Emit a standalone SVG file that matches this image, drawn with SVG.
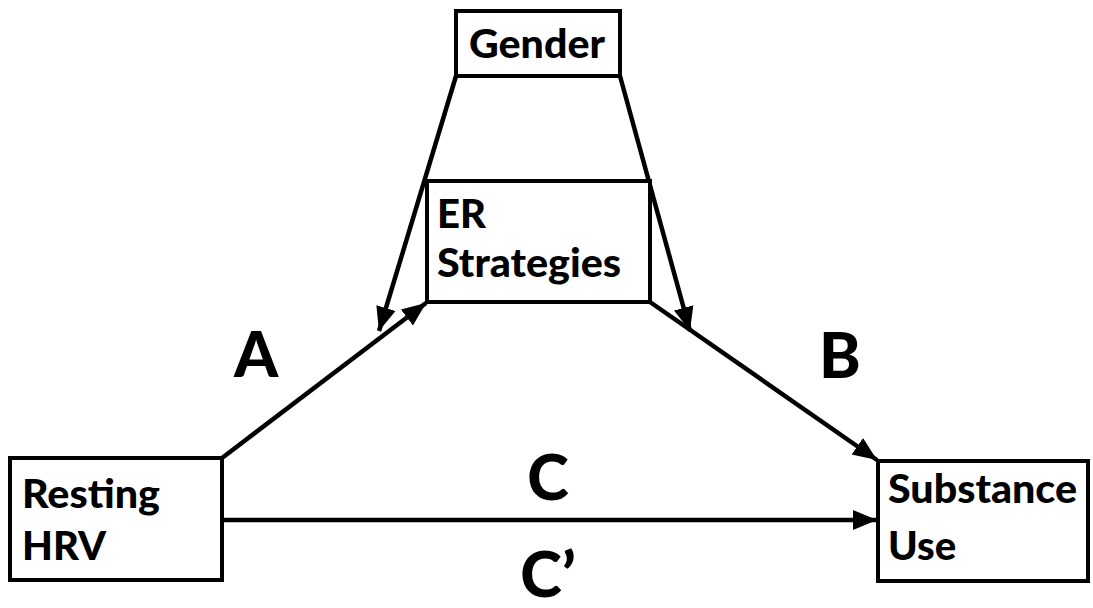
<svg xmlns="http://www.w3.org/2000/svg" width="1093" height="608" viewBox="0 0 1093 608">
<defs>
<marker id="ah" markerUnits="userSpaceOnUse" markerWidth="26" markerHeight="22" refX="24" refY="10" orient="auto" viewBox="0 0 26 20">
<path d="M0,0 L24,10 L0,20 Z" fill="#000"/>
</marker>
<style>
.box{fill:#fff;stroke:#000;stroke-width:4}
.t{font-family:Lato,"Open Sans",sans-serif;font-weight:900;font-size:40px;fill:#000}
.big{font-family:Lato,"Open Sans",sans-serif;font-weight:900;font-size:63px;fill:#000}
.c{stroke:#000;stroke-width:4.5;fill:none}
</style>
</defs>
<rect width="1093" height="608" fill="#fff"/>
<g id="connectors">
<line class="c" x1="456" y1="76" x2="379" y2="331" marker-end="url(#ah)"/>
<line class="c" x1="620" y1="76" x2="690" y2="331" marker-end="url(#ah)"/>
<line class="c" x1="222" y1="458" x2="426" y2="303" marker-end="url(#ah)"/>
<line class="c" x1="650" y1="302" x2="877" y2="460" marker-end="url(#ah)"/>
<line class="c" x1="222" y1="520" x2="877" y2="520" marker-end="url(#ah)"/>
</g>
<g id="gender">
<rect class="box" x="456" y="11" width="164" height="65"/>
<text class="t" x="469" y="58" textLength="136" lengthAdjust="spacingAndGlyphs">Gender</text>
</g>
<g id="er">
<rect class="box" x="427" y="181" width="223" height="121"/>
<text class="t" x="437" y="228">ER</text>
<text class="t" x="437" y="277" textLength="184" lengthAdjust="spacingAndGlyphs">Strategies</text>
</g>
<g id="hrv">
<rect class="box" x="10" y="458" width="212" height="122"/>
<text class="t" x="22" y="508" textLength="138" lengthAdjust="spacingAndGlyphs">Resting</text>
<text class="t" x="22" y="560">HRV</text>
</g>
<g id="substance">
<rect class="box" x="878" y="461" width="210" height="120"/>
<text class="t" x="888" y="503" textLength="189" lengthAdjust="spacingAndGlyphs">Substance</text>
<text class="t" x="888" y="560">Use</text>
</g>
<g id="labels">
<text class="big" x="256" y="377" text-anchor="middle">A</text>
<text class="big" x="840" y="378" text-anchor="middle">B</text>
<text class="big" x="548" y="500" text-anchor="middle">C</text>
<text class="big" x="548" y="597" text-anchor="middle">C’</text>
</g>
</svg>
